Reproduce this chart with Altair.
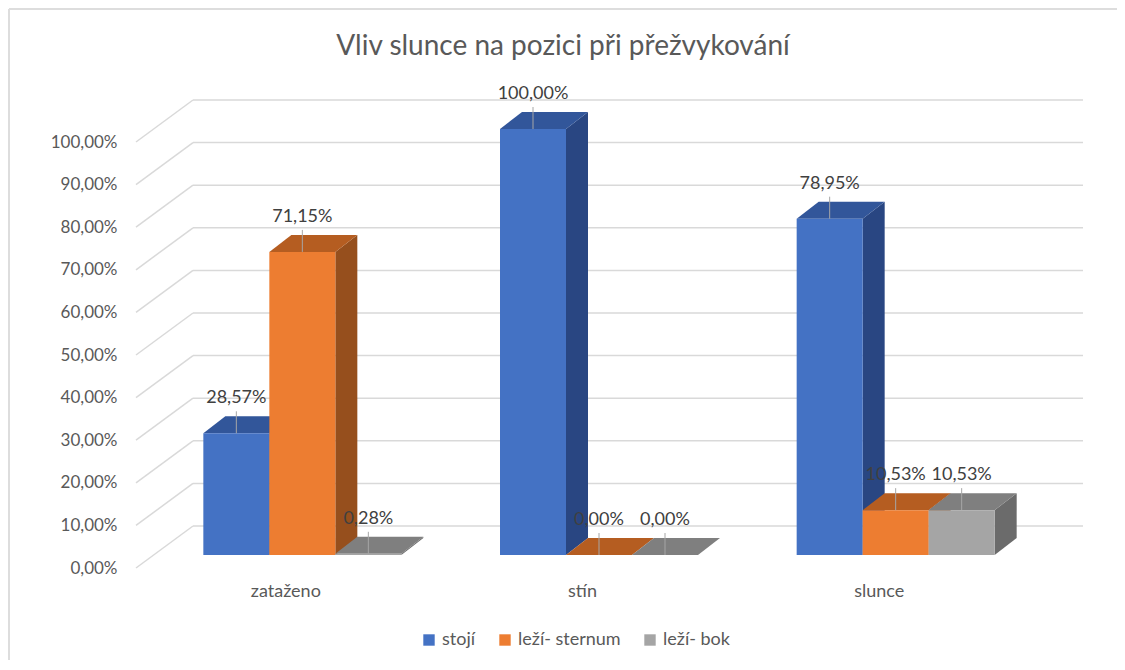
import json
import altair as alt
import pandas as pd

# ---- data ----
categories = ["zataženo", "stín", "slunce"]
series = ["stojí", "leží- sternum", "leží- bok"]
stoji = [0.2857, 1.0, 0.7895]
lezi_sternum = [0.7115, 0.0, 0.1053]
lezi_bok = [0.0028, 0.0, 0.1053]
tick_values = [0.0, 0.1, 0.2, 0.3, 0.4, 0.5, 0.6, 0.7, 0.8, 0.9, 1.0]

front_colors = ["#4472C4", "#ED7D31", "#A5A5A5"]
top_colors = ["#32569A", "#B55D21", "#7F7F7F"]
side_colors = ["#294682", "#964F1D", "#6B6B6B"]

# ---- geometry (plot units) ----
W, H = 890, 426
PX_X = W / 3.0          # px per x unit
PX_Y = H / 1.0          # px per y unit
BW = 66 / PX_X          # bar width
DX = 22 / PX_X          # depth, x
DY = 17 / PX_Y          # depth, y

values_by_series = [stoji, lezi_sternum, lezi_bok]
front_rows, top_rows, side_rows = [], [], []
for ci, cat in enumerate(categories):
    for si, s in enumerate(series):
        v = values_by_series[si][ci]
        xc = ci + (si - 1) * BW
        xl, xr = xc - BW / 2, xc + BW / 2
        bid = f"{ci}-{si}"
        front_rows.append(dict(cat=cat, series=s, value=v, xl=xl, xr=xr, xc=xc, bar=bid))
        for x, y, y2 in [(xl, v, v), (xl + DX, v + DY, v), (xr, v + DY, v), (xr + DX, v + DY, v + DY)]:
            top_rows.append(dict(series=s, bar=bid, x=x, y=y, y2=y2))
        for x, y, y2 in [(xr, v, 0.0), (xr + DX, v + DY, DY)]:
            side_rows.append(dict(series=s, bar=bid, x=x, y=y, y2=y2))

front_df = pd.DataFrame(front_rows)
top_df = pd.DataFrame(top_rows)
side_df = pd.DataFrame(side_rows)
grid_df = pd.DataFrame({"v": tick_values})

xscale = alt.Scale(domain=[-0.5, 2.5], nice=False, zero=False)
yscale = alt.Scale(domain=[0, 1], nice=False, zero=False)
pct = "replace(format(datum.value, '.2%'), '.', ',')"
cat_expr = json.dumps(categories) + "[datum.value]"

GRID = "#D9D9D9"

back_grid = alt.Chart(grid_df).mark_rule(color=GRID, strokeWidth=1.5, yOffset=-29).encode(
    y=alt.Y("v:Q", scale=yscale,
            axis=alt.Axis(values=tick_values, labelExpr=pct, domain=False, ticks=False, grid=False,
                          offset=37, labelPadding=0, labelOffset=13, labelFontSize=17,
                          labelColor="#595959", labelOverlap=False, title=None)),
    x=alt.value(39), x2=alt.value(929),
)
diag_grid = alt.Chart(grid_df).mark_rule(color=GRID, strokeWidth=1.5, yOffset=13, y2Offset=-29).encode(
    y=alt.Y("v:Q", scale=yscale), y2="v:Q",
    x=alt.value(-18), x2=alt.value(39),
)

sides = alt.Chart(side_df).mark_area(interpolate="linear").encode(
    x=alt.X("x:Q", scale=xscale),
    y=alt.Y("y:Q", scale=yscale, stack=None),
    y2="y2:Q",
    detail="bar:N",
    color=alt.Color("series:N", scale=alt.Scale(domain=series, range=side_colors), legend=None),
)
tops = alt.Chart(top_df).mark_area(interpolate="linear").encode(
    x=alt.X("x:Q", scale=xscale),
    y=alt.Y("y:Q", scale=yscale, stack=None),
    y2="y2:Q",
    detail="bar:N",
    color=alt.Color("series:N", scale=alt.Scale(domain=series, range=top_colors), legend=None),
)
fronts = alt.Chart(front_df).mark_rect().encode(
    x=alt.X("xl:Q", scale=xscale,
            axis=alt.Axis(values=[0, 1, 2], labelExpr=cat_expr, domain=False, ticks=False, grid=False,
                          labelPadding=27, labelOffset=-17, labelFontSize=18, labelColor="#595959",
                          title=None)),
    x2="xr:Q",
    y=alt.Y("value:Q", scale=yscale, stack=None),
    y2=alt.datum(0),
    color=alt.Color("series:N", scale=alt.Scale(domain=series, range=front_colors),
                    legend=alt.Legend(title=None, orient="none", direction="horizontal",
                                      legendX=266, legendY=502, symbolType="square", symbolSize=130,
                                      symbolStrokeWidth=0, labelFontSize=18, labelColor="#595959",
                                      columnPadding=20, labelOffset=4)),
)
leaders = alt.Chart(front_df).mark_rule(color="#A6A6A6", strokeWidth=1, yOffset=-22, y2Offset=0).encode(
    x=alt.X("xc:Q", scale=xscale), y=alt.Y("value:Q", scale=yscale), y2="value:Q",
)
labels = alt.Chart(front_df).transform_calculate(
    lab="replace(format(datum.value, '.2%'), '.', ',')"
).mark_text(fontSize=18, color="#404040", baseline="middle", yOffset=-35).encode(
    x=alt.X("xc:Q", scale=xscale), y=alt.Y("value:Q", scale=yscale), text="lab:N",
)
border_top = alt.Chart(grid_df).mark_rule(color="#DDDDDD", strokeWidth=2).encode(
    x=alt.value(-145), x2=alt.value(970), y=alt.value(-120),
)
border_left = alt.Chart(grid_df).mark_rule(color="#DDDDDD", strokeWidth=2).encode(
    x=alt.value(-145), y=alt.value(-120), y2=alt.value(540),
)

chart = alt.layer(
    back_grid, diag_grid, sides, tops, fronts, leaders, labels, border_top, border_left
).resolve_scale(color="independent").properties(
    width=W, height=H,
    autosize=alt.AutoSizeParams(type="none"),
    padding={"left": 146, "top": 121, "right": 73, "bottom": 105},
    title=alt.TitleParams("Vliv slunce na pozici při přežvykování", fontSize=28, font="Lato",
                          fontWeight="normal", color="#595959", anchor="middle", dx=-36, offset=-53),
).configure(font="Lato").configure_view(stroke=None)

chart.save("out.html", embed_options={"renderer": "svg", "actions": False})
